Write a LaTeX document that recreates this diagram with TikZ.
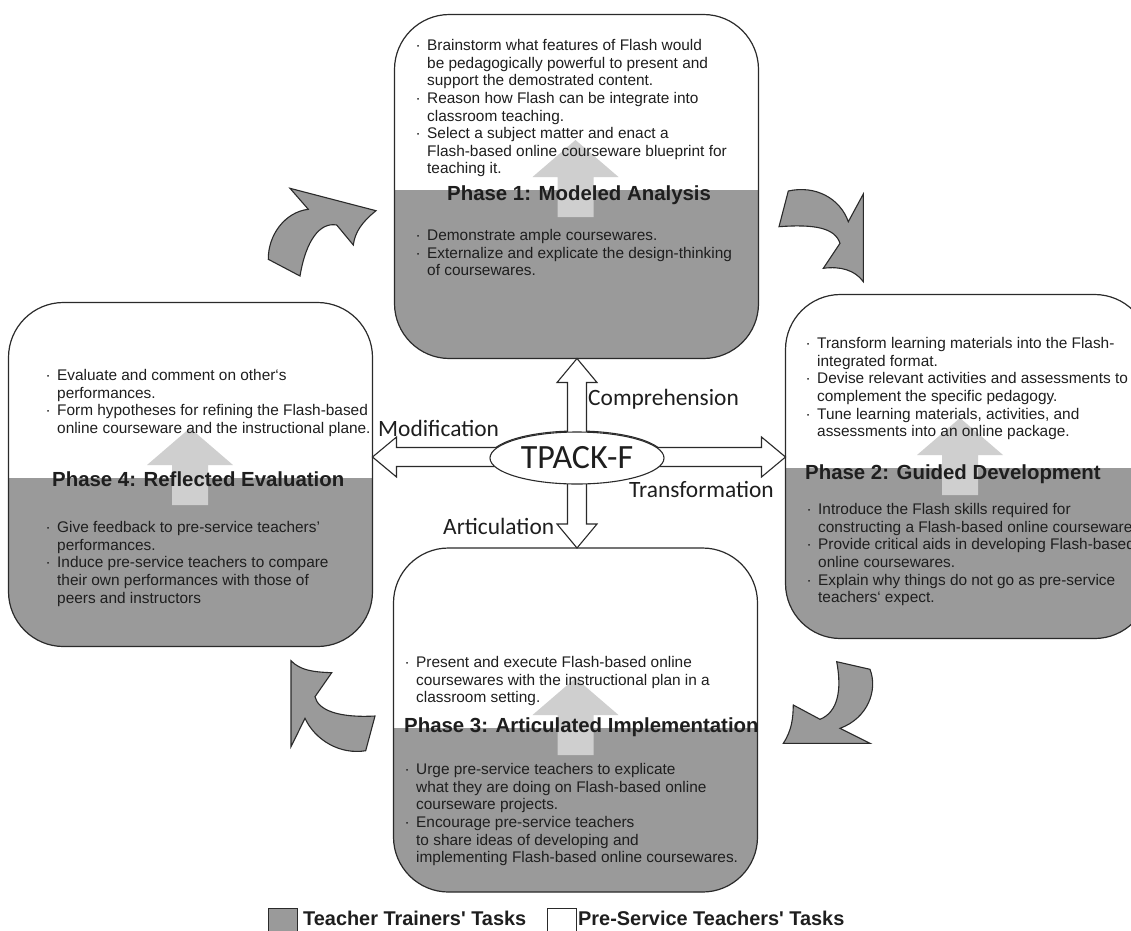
\documentclass[tikz,border=0pt]{standalone}
\usepackage{fontspec}
\setmainfont{Liberation Sans}
\newfontfamily\carl{Carlito}
\usetikzlibrary{calc,shapes.geometric}
\definecolor{trainer}{HTML}{9A9A9A}
\definecolor{lightarr}{HTML}{CFCFCF}
\definecolor{txtc}{HTML}{1E1E1E}
\definecolor{edgec}{HTML}{2A2A2A}
\newcommand\bul{\makebox[11.5pt][l]{·}}
\newcommand\ind{\hspace*{11.5pt}}
\tikzset{
  boxnode/.style={minimum width=364pt, minimum height=344pt, inner sep=0pt, outer sep=0pt},
  boxline/.style={draw=edgec, line width=1.2pt},
  bodytxt/.style={anchor=north west, inner sep=0pt, align=left, text=txtc,
    font=\fontsize{15.4pt}{17.6pt}\selectfont},
  titletxt/.style={anchor=base west, inner sep=0pt, text=txtc,
    font=\fontsize{20.4pt}{24pt}\selectfont\bfseries},
  lbltxt/.style={anchor=base west, inner sep=0pt, text=txtc,
    font=\fontsize{23.4pt}{28pt}\selectfont\carl},
  crossarrow/.style={draw=edgec, fill=white, line width=1.1pt, line join=miter},
  curvarrow/.style={draw=edgec, fill=trainer, line width=1.1pt, line join=miter},
  legsq/.style={draw=edgec, line width=1pt, minimum width=29pt, minimum height=26pt, inner sep=0pt},
  legtxt/.style={anchor=base west, inner sep=0pt, text=txtc,
    font=\fontsize{19.9pt}{24pt}\selectfont\bfseries},
}
% name, cx, cy, divider y, arrow x
\newcommand\phasebox[5]{%
  \node[boxnode] (#1) at (#2,#3) {};
  \begin{scope}
    \clip[rounded corners=55pt] (#1.north west) rectangle (#1.south east);
    \fill[white] (#1.north west) rectangle (#1.south east);
    \fill[trainer] (#2-200,#4) rectangle (#2+200,#3+200);
    \fill[lightarr] (#5,#4-50) -- (#5+43,#4-13) -- (#5+18,#4-13) -- (#5+18,#4+27)
      -- (#5-18,#4+27) -- (#5-18,#4-13) -- (#5-43,#4-13) -- cycle;
  \end{scope}
  \draw[boxline, rounded corners=55pt] (#1.north west) rectangle (#1.south east);
}
\begin{document}
\begin{tikzpicture}[x=1pt, y=-1pt]
\path[use as bounding box] (0,0) rectangle (1131,930);
\clip (0,0) rectangle (1131,930);
\fill[white] (0,0) rectangle (1131,930);

% phase boxes
\phasebox{p1}{576.5}{186.5}{190}{575.5}
\phasebox{p2}{967.5}{466.5}{468}{960}
\phasebox{p4}{190.5}{474.5}{478}{190}
\phasebox{p3}{575.5}{720}{728}{575.5}

% centre
\node[ellipse, draw=edgec, line width=1.1pt, minimum width=174pt, minimum height=52pt, inner sep=0pt] (tp) at (577,457) {};
\coordinate (vt) at (tp |- p1.south);
\coordinate (vb) at (tp |- p3.north);
\coordinate (hl) at (tp -| p4.east);
\coordinate (hr) at (tp -| p2.west);

\draw[crossarrow] (vt) -- ($(vt)+(20,24)$) -- ($(vt)+(9.5,24)$) -- ($(vb)+(9.5,-24)$)
  -- ($(vb)+(20,-24)$) -- (vb) -- ($(vb)+(-20,-24)$) -- ($(vb)+(-9.5,-24)$)
  -- ($(vt)+(-9.5,24)$) -- ($(vt)+(-20,24)$) -- cycle;
\draw[crossarrow] (hl) -- ($(hl)+(24,-20)$) -- ($(hl)+(24,-9.5)$) -- ($(hr)+(-24,-9.5)$)
  -- ($(hr)+(-24,-20)$) -- (hr) -- ($(hr)+(-24,20)$) -- ($(hr)+(-24,9.5)$)
  -- ($(hl)+(24,9.5)$) -- ($(hl)+(24,20)$) -- cycle;
\node[ellipse, draw=edgec, fill=white, line width=1.1pt, minimum width=174pt, minimum height=52pt,
  inner sep=0pt, text=txtc, font=\fontsize{34pt}{40pt}\selectfont\carl] (tpk) at (577,458) {TPACK-F};

\node[lbltxt] (lcomp) at (588,405) {Comprehension};
\node[lbltxt] (lmod) at (378,436) {Modification};
\node[lbltxt] (ltrans) at (629,497) {Transformation};
\node[lbltxt] (lart) at (443,534) {Articulation};

% curved cycle arrows
\draw[curvarrow] (268.3,259.3) .. controls (268,235) and (285,212) .. (308.3,209.3)
  -- (290,188.3) -- (376,210.7) .. controls (362,222) and (355,232) .. (353.3,245)
  -- (336.7,225) .. controls (320,222) and (306,240) .. (300,276) -- cycle;
\draw[curvarrow] (788.3,191) .. controls (815,185) and (840,198) .. (848.3,221.7)
  -- (863.3,194) -- (863.3,281.7) .. controls (855,270) and (840,266) .. (823.3,268.3)
  -- (840,243.3) .. controls (835,228) and (815,224) .. (779,226.7) -- cycle;
\draw[curvarrow] (836.7,661.7) -- (870,669.3) .. controls (878,690) and (868,718) .. (840,728.3)
  -- (870,743.3) -- (783.3,743.3) .. controls (792,730) and (793,718) .. (793.3,705)
  -- (820,719.3) .. controls (838,712) and (842,690) .. (836.7,661.7) -- cycle;
\draw[curvarrow] (375,716) -- (365.7,750.7) .. controls (340,755) and (315,740) .. (305,718.3)
  -- (291,746.7) -- (291,660.7) .. controls (300,670) and (312,672) .. (331.7,672.7)
  -- (315,696.7) .. controls (318,710) and (338,718) .. (375,716) -- cycle;

% titles
\node[titletxt] (t1) at (447,200) {Phase 1: Modeled Analysis};
\node[titletxt] (t2) at (805,479) {Phase 2: Guided Development};
\node[titletxt] (t4) at (52,486) {Phase 4: Reflected Evaluation};
\node[titletxt] (t3) at (404,732) {Phase 3: Articulated Implementation};

% body texts
\node[bodytxt] (p1u) at (415.5,39.3) {\bul Brainstorm what features of Flash would\\
  \ind be pedagogically powerful to present and\\
  \ind support the demostrated content.\\
  \bul Reason how Flash can be integrate into\\
  \ind classroom teaching.\\
  \bul Select a subject matter and enact a\\
  \ind Flash-based online courseware blueprint for\\
  \ind teaching it.};
\node[bodytxt] (p1l) at (415.5,229.3) {\bul Demonstrate ample coursewares.\\
  \bul Externalize and explicate the design-thinking\\
  \ind of coursewares.};
\node[bodytxt] (p2u) at (805.5,337.3) {\bul Transform learning materials into the Flash-\\
  \ind integrated format.\\
  \bul Devise relevant activities and assessments to\\
  \ind complement the specific pedagogy.\\
  \bul Tune learning materials, activities, and\\
  \ind assessments into an online package.};
\node[bodytxt] (p2l) at (806.5,503.3) {\bul Introduce the Flash skills required for\\
  \ind constructing a Flash-based online courseware.\\
  \bul Provide critical aids in developing Flash-based\\
  \ind online coursewares.\\
  \bul Explain why things do not go as pre-service\\
  \ind teachers` expect.};
\node[bodytxt] (p4u) at (45.5,369.3) {\bul Evaluate and comment on other`s\\
  \ind performances.\\
  \bul Form hypotheses for refining the Flash-based\\
  \ind online courseware and the instructional plane.};
\node[bodytxt] (p4l) at (45.5,521.3) {\bul Give feedback to pre-service teachers'\\
  \ind performances.\\
  \bul Induce pre-service teachers to compare\\
  \ind their own performances with those of\\
  \ind peers and instructors};
\node[bodytxt] (p3u) at (404.5,656.3) {\bul Present and execute Flash-based online\\
  \ind coursewares with the instructional plan in a\\
  \ind classroom setting.};
\node[bodytxt] (p3l) at (404.5,763.3) {\bul Urge pre-service teachers to explicate\\
  \ind what they are doing on Flash-based online\\
  \ind courseware projects.\\
  \bul Encourage pre-service teachers\\
  \ind to share ideas of developing and\\
  \ind implementing Flash-based online coursewares.};

% legend
\node[legsq, fill=trainer] (lg1) at (283,921) {};
\node[legtxt] (lg1t) at (303,925) {Teacher Trainers\textquotesingle{} Tasks};
\node[legsq, fill=white] (lg2) at (561.5,921) {};
\node[legtxt] (lg2t) at (578,925) {Pre-Service Teachers\textquotesingle{} Tasks};
\end{tikzpicture}
\end{document}
